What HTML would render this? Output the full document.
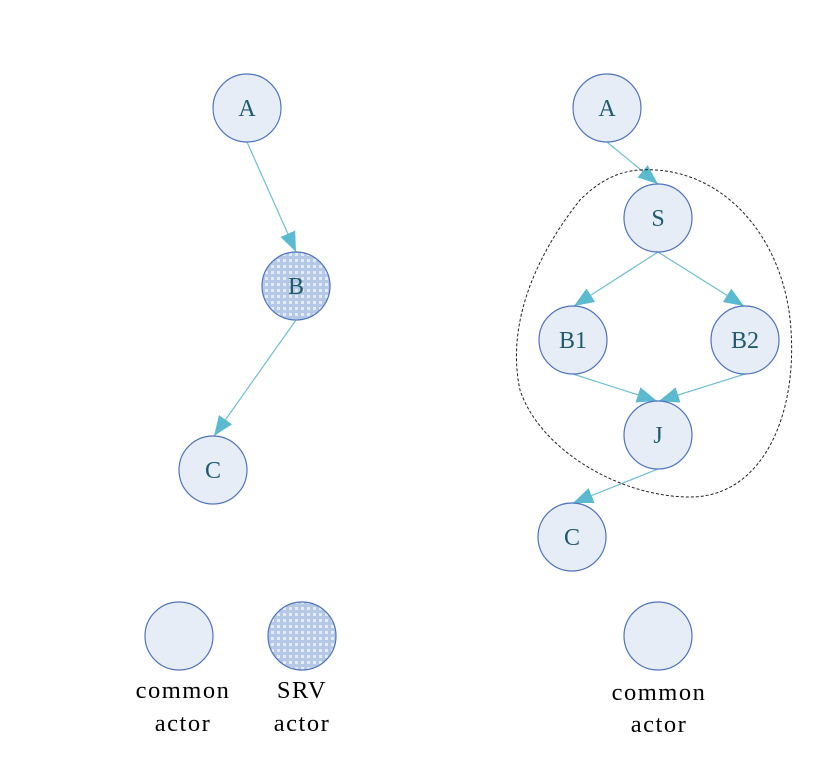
<!DOCTYPE html>
<html><head><meta charset="utf-8"><style>
html,body{margin:0;padding:0;background:#fff;}
svg{display:block;}
text{font-family:"Liberation Serif",serif;}
</style></head><body>
<svg width="830" height="758" viewBox="0 0 830 758" xmlns="http://www.w3.org/2000/svg">
<defs>
<marker id="ar" viewBox="0 0 20 16" refX="20" refY="8" markerWidth="20" markerHeight="16" markerUnits="userSpaceOnUse" orient="auto">
<path d="M0,0 L20,8 L0,16 Z" fill="#5bbad0"/>
</marker>
<pattern id="dots" width="6" height="6" patternUnits="userSpaceOnUse">
<rect width="6" height="6" fill="#b5c8e6"/>
<rect x="1" y="1" width="3" height="3" fill="#e3ebf7"/>
</pattern>
</defs>
<g stroke="#6fbfd2" stroke-width="1.2" fill="none" marker-end="url(#ar)">
<line x1="247" y1="142" x2="296" y2="252"/>
<line x1="296" y1="320" x2="214" y2="436"/>
<line x1="607" y1="142" x2="658" y2="184"/>
<line x1="658" y1="252" x2="574" y2="306"/>
<line x1="658" y1="252" x2="744" y2="306"/>
<line x1="573" y1="374" x2="657" y2="401"/>
<line x1="745" y1="374" x2="659" y2="401"/>
<line x1="658" y1="469" x2="573" y2="503"/>
</g>
<path d="M640,170 C720,165 785,235 791,330 C797,420 760,497 690,497 C620,497 540,450 520,390 C505,320 540,250 580,200 C600,180 620,171 640,170 Z" fill="none" stroke="#222" stroke-width="1" stroke-dasharray="3,2"/>
<g stroke="#4f74bf" stroke-width="1.2">
<circle cx="247" cy="108" r="34" fill="#e6edf7"/>
<circle cx="296" cy="286" r="34" fill="url(#dots)"/>
<circle cx="213" cy="470" r="34" fill="#e6edf7"/>
<circle cx="179" cy="636" r="34" fill="#e6edf7"/>
<circle cx="302" cy="636" r="34" fill="url(#dots)"/>
<circle cx="607" cy="108" r="34" fill="#e6edf7"/>
<circle cx="658" cy="218" r="34" fill="#e6edf7"/>
<circle cx="573" cy="340" r="34" fill="#e6edf7"/>
<circle cx="745" cy="340" r="34" fill="#e6edf7"/>
<circle cx="658" cy="435" r="34" fill="#e6edf7"/>
<circle cx="572" cy="537" r="34" fill="#e6edf7"/>
<circle cx="658" cy="636" r="34" fill="#e6edf7"/>
</g>
<g fill="#1f5a6e" font-size="24" text-anchor="middle">
<text x="247" y="116">A</text>
<text x="296" y="294">B</text>
<text x="213" y="478">C</text>
<text x="607" y="116">A</text>
<text x="658" y="226">S</text>
<text x="573" y="348">B1</text>
<text x="745" y="348">B2</text>
<text x="658" y="443">J</text>
<text x="572" y="545">C</text>
</g>
<g fill="#000" font-size="24.5" text-anchor="middle" letter-spacing="1.5">
<text x="183" y="698">common</text>
<text x="183" y="731">actor</text>
<text x="302" y="698">SRV</text>
<text x="302" y="731">actor</text>
<text x="659" y="700">common</text>
<text x="659" y="732">actor</text>
</g>
</svg>
</body></html>
